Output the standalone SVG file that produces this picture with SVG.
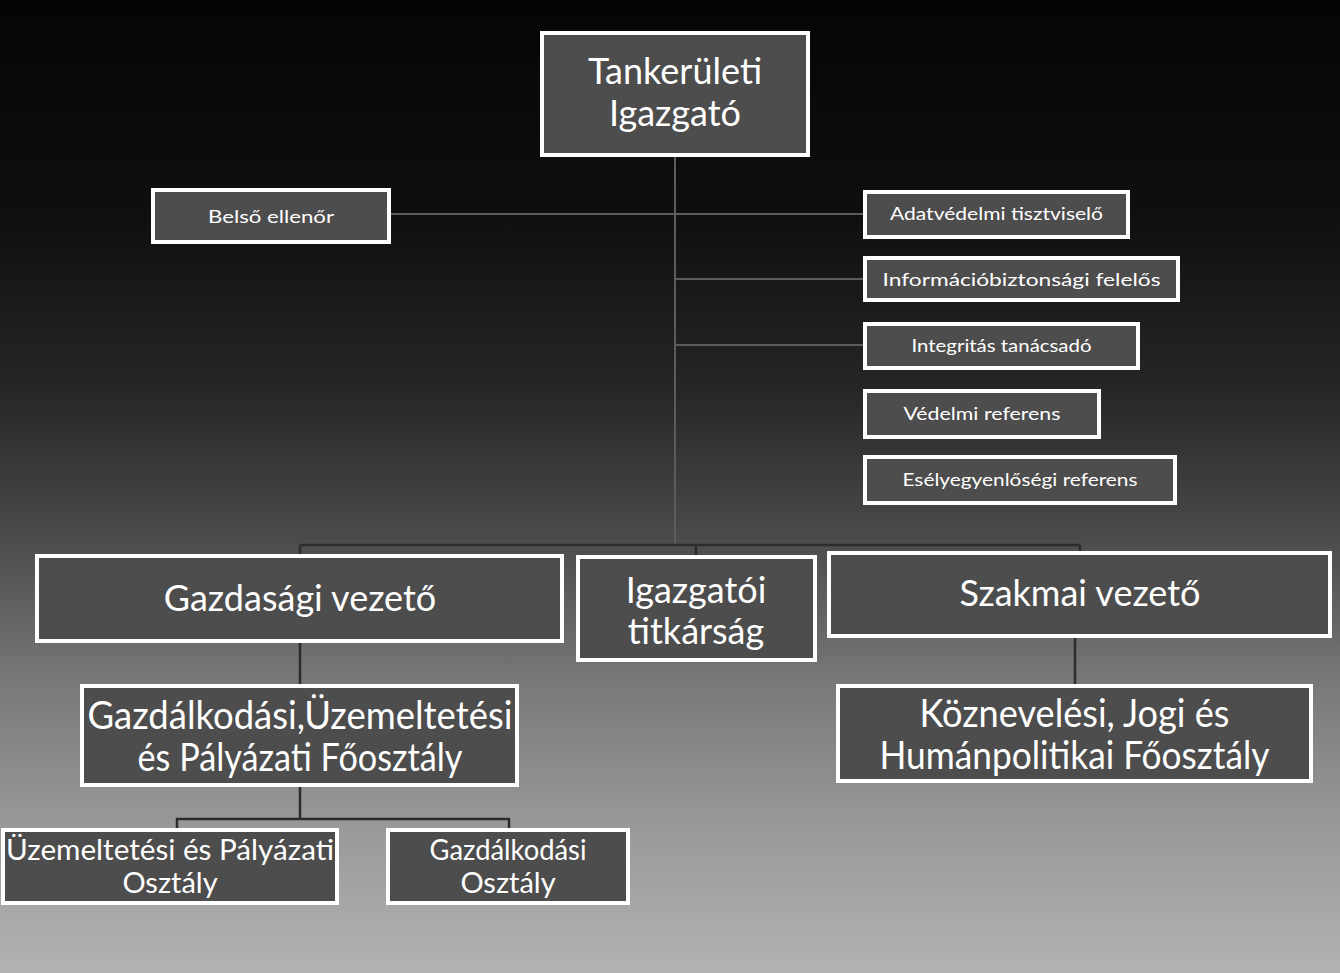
<svg xmlns="http://www.w3.org/2000/svg" width="1340" height="973" viewBox="0 0 1340 973">
<defs>
<linearGradient id="bg" x1="0" y1="0" x2="0" y2="1">
<stop offset="0" stop-color="#050505"/>
<stop offset="0.22" stop-color="#0f0f0f"/>
<stop offset="0.4" stop-color="#262626"/>
<stop offset="0.55" stop-color="#4a4a4a"/>
<stop offset="0.7" stop-color="#787878"/>
<stop offset="0.85" stop-color="#999999"/>
<stop offset="1" stop-color="#b2b2b2"/>
</linearGradient>
<style>
.box{fill:#4d4d4d;stroke:#ffffff;stroke-width:4}
.t{font-family:Lato,"Liberation Sans",sans-serif;fill:#ffffff;text-anchor:middle}
.big{font-size:36px}
.mid{font-size:38px}
.sm{font-size:29px}
.xs{font-size:18px}
.cl{stroke:#5c5c5c;stroke-width:2;fill:none}
.cd{stroke:#2c2c2c;stroke-width:2.5;fill:none}
</style>
</defs>
<rect x="0" y="0" width="1340" height="973" fill="url(#bg)"/>
<g id="connectors">
<path class="cl" d="M675 155 V545"/>
<path class="cl" d="M391 214 H865"/>
<path class="cl" d="M675 279 H865"/>
<path class="cl" d="M675 345 H865"/>
<path class="cd" d="M300 545 H1080 M300 545 V556 M696 545 V557 M1080 545 V553"/>
<path class="cd" d="M300 641 V686"/>
<path class="cd" d="M1075 636 V686"/>
<path class="cd" d="M300 785 V819 M177 830 V819 H509 V830"/>
</g>
<g id="tankeruleti-igazgato">
<rect class="box" x="542" y="33" width="266" height="122"/>
<text class="t big" x="675" y="84">Tankerületi</text>
<text class="t big" x="675" y="126">Igazgató</text>
</g>
<g id="belso-ellenor">
<rect class="box" x="153" y="190" width="236" height="52"/>
<text class="t xs" x="271" y="223" textLength="126" lengthAdjust="spacingAndGlyphs">Belső ellenőr</text>
</g>
<g id="adatvedelmi">
<rect class="box" x="865" y="192" width="263" height="45"/>
<text class="t xs" x="996.5" y="220" textLength="213" lengthAdjust="spacingAndGlyphs">Adatvédelmi tisztviselő</text>
</g>
<g id="informaciobiztonsagi">
<rect class="box" x="865" y="258" width="313" height="42"/>
<text class="t xs" x="1021.5" y="286" textLength="278" lengthAdjust="spacingAndGlyphs">Információbiztonsági felelős</text>
</g>
<g id="integritas">
<rect class="box" x="865" y="324" width="273" height="44"/>
<text class="t xs" x="1001.5" y="352" textLength="180" lengthAdjust="spacingAndGlyphs">Integritás tanácsadó</text>
</g>
<g id="vedelmi">
<rect class="box" x="865" y="391" width="234" height="46"/>
<text class="t xs" x="982" y="420" textLength="157" lengthAdjust="spacingAndGlyphs">Védelmi referens</text>
</g>
<g id="eselyegyenlosegi">
<rect class="box" x="865" y="457" width="310" height="46"/>
<text class="t xs" x="1020" y="486" textLength="235" lengthAdjust="spacingAndGlyphs">Esélyegyenlőségi referens</text>
</g>
<g id="gazdasagi-vezeto">
<rect class="box" x="37" y="556" width="525" height="85"/>
<text class="t big" x="300" y="611">Gazdasági vezető</text>
</g>
<g id="igazgatoi-titkarsag">
<rect class="box" x="578" y="557" width="237" height="103"/>
<text class="t big" x="696" y="603">Igazgatói</text>
<text class="t big" x="696" y="644">titkárság</text>
</g>
<g id="szakmai-vezeto">
<rect class="box" x="829" y="553" width="501" height="83"/>
<text class="t big" x="1080" y="606">Szakmai vezető</text>
</g>
<g id="gazdalkodasi-foosztaly">
<rect class="box" x="82" y="686" width="435" height="99"/>
<text class="t mid" x="300" y="729" textLength="425" lengthAdjust="spacingAndGlyphs">Gazdálkodási,Üzemeltetési</text>
<text class="t mid" x="300" y="771" textLength="325" lengthAdjust="spacingAndGlyphs">és Pályázati Főosztály</text>
</g>
<g id="koznevelesi-foosztaly">
<rect class="box" x="838" y="686" width="473" height="95"/>
<text class="t mid" x="1074.5" y="727" textLength="310" lengthAdjust="spacingAndGlyphs">Köznevelési, Jogi és</text>
<text class="t mid" x="1074.5" y="769" textLength="390" lengthAdjust="spacingAndGlyphs">Humánpolitikai Főosztály</text>
</g>
<g id="uzemeltetesi-osztaly">
<rect class="box" x="3" y="830" width="334" height="73"/>
<text class="t sm" x="170" y="860" textLength="328" lengthAdjust="spacingAndGlyphs">Üzemeltetési és Pályázati</text>
<text class="t sm" x="170" y="893">Osztály</text>
</g>
<g id="gazdalkodasi-osztaly">
<rect class="box" x="388" y="830" width="240" height="73"/>
<text class="t sm" x="508" y="860" textLength="157" lengthAdjust="spacingAndGlyphs">Gazdálkodási</text>
<text class="t sm" x="508" y="893">Osztály</text>
</g>
</svg>
